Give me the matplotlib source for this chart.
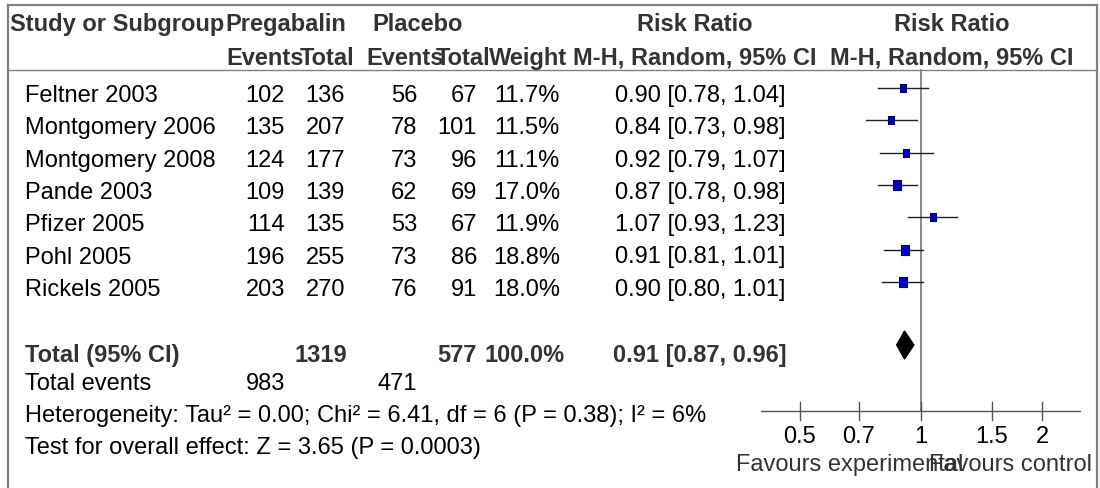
import numpy as np
import matplotlib
matplotlib.use('Agg')
import matplotlib.pyplot as plt

plt.rcParams['font.family'] = ['Liberation Sans', 'DejaVu Sans']

# data
studies = ['Feltner 2003', 'Montgomery 2006', 'Montgomery 2008', 'Pande 2003',
           'Pfizer 2005', 'Pohl 2005', 'Rickels 2005']
preg_events = [102, 135, 124, 109, 114, 196, 203]
preg_total = [136, 207, 177, 139, 135, 255, 270]
plac_events = [56, 78, 73, 62, 53, 73, 76]
plac_total = [67, 101, 96, 69, 67, 86, 91]
weights = [11.7, 11.5, 11.1, 17.0, 11.9, 18.8, 18.0]
rr = [0.90, 0.84, 0.92, 0.87, 1.07, 0.91, 0.90]
rr_lo = [0.78, 0.73, 0.79, 0.78, 0.93, 0.81, 0.80]
rr_hi = [1.04, 0.98, 1.07, 0.98, 1.23, 1.01, 1.01]

total_rr, total_lo, total_hi = 0.91, 0.87, 0.96
total_preg, total_plac = 1319, 577
events_preg, events_plac = 983, 471
het_text = 'Heterogeneity: Tau² = 0.00; Chi² = 6.41, df = 6 (P = 0.38); I² = 6%'
effect_text = 'Test for overall effect: Z = 3.65 (P = 0.0003)'
ticks = [0.5, 0.7, 1, 1.5, 2]
tick_labels = ['0.5', '0.7', '1', '1.5', '2']

W, H = 1100, 489
fig = plt.figure(figsize=(W / 100, H / 100), dpi=100)

# overlay axes in pixel units for the table part
ax = fig.add_axes([0, 0, 1, 1])
ax.set_xlim(0, W)
ax.set_ylim(H, 0)
ax.axis('off')

fs = 17
hdr = '#333333'
grey = '#808080'

# columns (pixel layout): numbers right aligned, headers centred
x_study = 25
x_pe, x_pt, x_ce, x_ct, x_w = 285, 345, 417, 477, 560
hc = [x_pe - 20, x_pt - 18, x_ce - 12, x_ct - 14, x_w - 32]
x_rr = 700
x_plot = 952
row0, step = 89, 32.3
rows = [row0 + step * i for i in range(len(studies))]
y_total = 346
y_events, y_het, y_eff = 382, 414, 446
base = 13  # square centre -> text baseline

# frame
ax.plot([8, 8], [6, H], color=grey, lw=1.6)
ax.plot([1097, 1097], [6, H], color=grey, lw=1.6)
ax.plot([8, 1097], [6, 6], color=grey, lw=1.6)
ax.plot([8, 1097], [71, 71], color=grey, lw=1.0)

# headers
hk = dict(fontsize=fs, fontweight='bold', color=hdr, va='baseline')
ax.text(10, 31, 'Study or Subgroup', ha='left', **hk)
ax.text(225, 31, 'Pregabalin', ha='left', **hk)
ax.text(372, 31, 'Placebo', ha='left', **hk)
ax.text(x_rr - 5, 31, 'Risk Ratio', ha='center', **hk)
ax.text(x_plot, 31, 'Risk Ratio', ha='center', **hk)
for xc, lab in zip(hc, ['Events', 'Total', 'Events', 'Total', 'Weight']):
    ax.text(xc, 65, lab, ha='center', **hk)
ax.text(x_rr - 5, 65, 'M-H, Random, 95% CI', ha='center', **hk)
ax.text(x_plot, 65, 'M-H, Random, 95% CI', ha='center', **hk)

# study rows
tk = dict(fontsize=fs, color='black', va='baseline')
for i, y in enumerate(rows):
    yb = y + base
    ax.text(x_study, yb, studies[i], ha='left', **tk)
    ax.text(x_pe, yb, str(preg_events[i]), ha='right', **tk)
    ax.text(x_pt, yb, str(preg_total[i]), ha='right', **tk)
    ax.text(x_ce, yb, str(plac_events[i]), ha='right', **tk)
    ax.text(x_ct, yb, str(plac_total[i]), ha='right', **tk)
    ax.text(x_w, yb, f'{weights[i]:.1f}%', ha='right', **tk)
    ax.text(x_rr, yb, f'{rr[i]:.2f} [{rr_lo[i]:.2f}, {rr_hi[i]:.2f}]', ha='center', **tk)

# total row
yb = y_total + 3 + base
ax.text(x_study, yb, 'Total (95% CI)', ha='left', **hk)
ax.text(x_pt + 2, yb, str(total_preg), ha='right', **hk)
ax.text(x_ct, yb, str(total_plac), ha='right', **hk)
ax.text(x_w + 5, yb, f'{sum(weights):.1f}%', ha='right', **hk)
ax.text(x_rr, yb, f'{total_rr:.2f} [{total_lo:.2f}, {total_hi:.2f}]', ha='center', **hk)

ax.text(x_study, y_events + 8, 'Total events', ha='left', **tk)
ax.text(x_pe, y_events + 8, str(events_preg), ha='right', **tk)
ax.text(x_ce, y_events + 8, str(events_plac), ha='right', **tk)
ax.text(x_study, y_het + 8, het_text, ha='left', **tk)
ax.text(x_study, y_eff + 8, effect_text, ha='left', **tk)

# forest plot on a log axis
fax = fig.add_axes([761 / W, 0, 320 / W, 1])
fax.set_xscale('log')
fax.set_xlim(0.4, 2.5)
fax.set_ylim(H, 0)
fax.axis('off')
fax.patch.set_alpha(0)

y_axis = 412
fax.plot([1, 1], [71, y_axis], color=grey, lw=1.3)
fax.plot([0.4, 2.5], [y_axis, y_axis], color='#555555', lw=1.0)
for t, lab in zip(ticks, tick_labels):
    fax.plot([t, t], [403, 421], color='#555555', lw=1.0)
    fax.text(t, 443, lab, ha='center', va='baseline', fontsize=fs, color='black')

box = [(-0.75, -1), (0.75, -1), (0.75, 1), (-0.75, 1), (-0.75, -1)]
for i, y in enumerate(rows):
    fax.plot([rr_lo[i], rr_hi[i]], [y, y], color='#222222', lw=1.0)
    fax.plot(rr[i], y, marker=box, markersize=1.75 * np.sqrt(weights[i]),
             markerfacecolor='#0000c0', markeredgecolor='#000060', markeredgewidth=0.8)

fax.fill([total_lo, total_rr, total_hi, total_rr],
         [y_total, y_total - 14, y_total, y_total + 14], color='black')

ax.text(736, 471, 'Favours experimental', ha='left', va='baseline', fontsize=fs, color=hdr)
ax.text(1092, 471, 'Favours control', ha='right', va='baseline', fontsize=fs, color=hdr)

fig.savefig('out.png', dpi=100)
